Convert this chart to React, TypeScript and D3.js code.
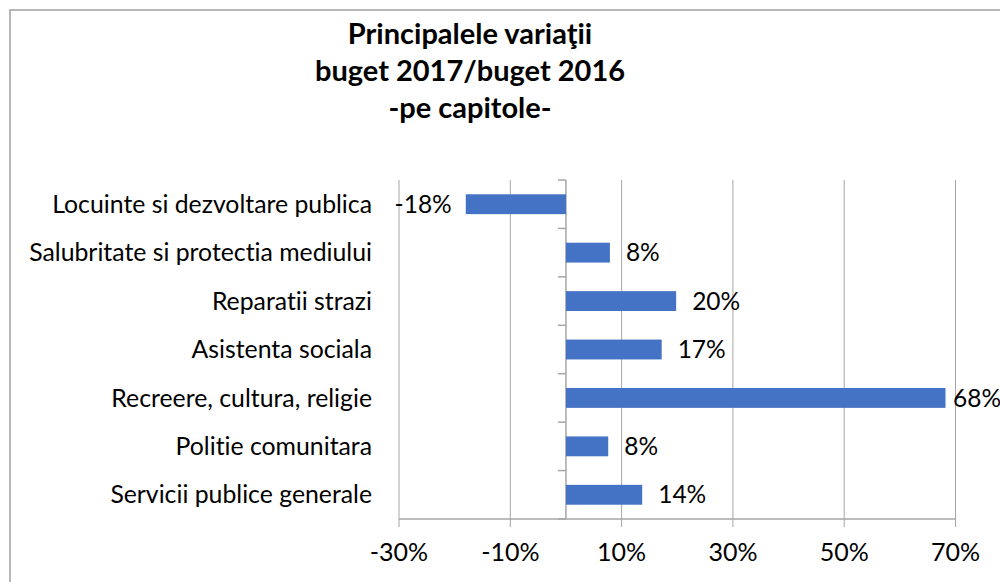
import React from "react";
import * as d3 from "d3";

const categories = [
  "Locuinte si dezvoltare publica",
  "Salubritate si protectia mediului",
  "Reparatii strazi",
  "Asistenta sociala",
  "Recreere, cultura, religie",
  "Politie comunitara",
  "Servicii publice generale",
];
const values = [-0.18, 0.079, 0.198, 0.172, 0.682, 0.076, 0.137];
const tickValues = [-0.3, -0.1, 0.1, 0.3, 0.5, 0.7];
const titleLines = ["Principalele variaţii", "buget 2017/buget 2016", "-pe capitole-"];

const W = 1000;
const H = 582;
const FONT = "Lato, 'Open Sans', sans-serif";
const noLig = { fontVariantLigatures: "none" as const, fontFeatureSettings: "'liga' 0, 'clig' 0" };

export default function App() {
  const x = d3.scaleLinear().domain([-0.3, 0.7]).range([399, 955.5]);
  const y = d3.scaleBand<string>().domain(categories).range([180, 519]).paddingInner(0.59).paddingOuter(0.295);
  const band = d3.scaleBand<string>().domain(categories).range([180, 519]);
  const pct = d3.format(".0%");
  const fmt = (v: number) => pct(v).replace("\u2212", "-");
  const x0 = x(0);
  const gridColor = "#a6a6a6";
  return (
    <svg width={W} height={H} style={{ position: "absolute", left: 0, top: 0, background: "#fff", ...noLig }}>
      <rect x={10} y={10} width={W + 10} height={H + 10} fill="#fff" stroke="#a0a0a0" strokeWidth={1.5} />
      {titleLines.map((t, i) => (
        <text key={i} x={470} y={44 + i * 37} textAnchor="middle" fontFamily={FONT} fontWeight="bold" fontSize={29} fill="#000" style={noLig}>
          {t}
        </text>
      ))}
      {tickValues.map((t) => (
        <g key={t}>
          <line x1={x(t)} x2={x(t)} y1={180} y2={527} stroke={gridColor} strokeWidth={1} />
          <text x={x(t)} y={561} textAnchor="middle" fontFamily={FONT} fontSize={25} fill="#000" style={noLig}>
            {fmt(t)}
          </text>
        </g>
      ))}
      <line x1={x(-0.3)} x2={x(0.7)} y1={519} y2={519} stroke={gridColor} strokeWidth={1.5} />
      <line x1={x0} x2={x0} y1={180} y2={519} stroke={gridColor} strokeWidth={1.5} />
      {categories.map((c) => (
        <line key={c} x1={x0 - 8} x2={x0} y1={band(c)!} y2={band(c)!} stroke={gridColor} strokeWidth={1.5} />
      ))}
      <line x1={x0 - 8} x2={x0} y1={519} y2={519} stroke={gridColor} strokeWidth={1.5} />
      {categories.map((c, i) => {
        const v = values[i];
        const xa = x(Math.min(0, v));
        const xb = x(Math.max(0, v));
        const cy = y(c)! + y.bandwidth() / 2;
        const lx = v < 0 ? xa - 14 : Math.min(xb + 16, 953);
        return (
          <g key={c}>
            <rect x={xa} y={y(c)!} width={xb - xa} height={y.bandwidth()} fill="#4472C4" />
            <text x={lx} y={cy} dy="0.35em" textAnchor={v < 0 ? "end" : "start"} fontFamily={FONT} fontSize={24.5} fill="#000" style={noLig}>
              {fmt(Math.round(v * 100) / 100)}
            </text>
            <text x={372} y={band(c)! + band.bandwidth() / 2} dy="0.35em" textAnchor="end" fontFamily={FONT} fontSize={24.8} fill="#000" style={noLig}>
              {c}
            </text>
          </g>
        );
      })}
    </svg>
  );
}
